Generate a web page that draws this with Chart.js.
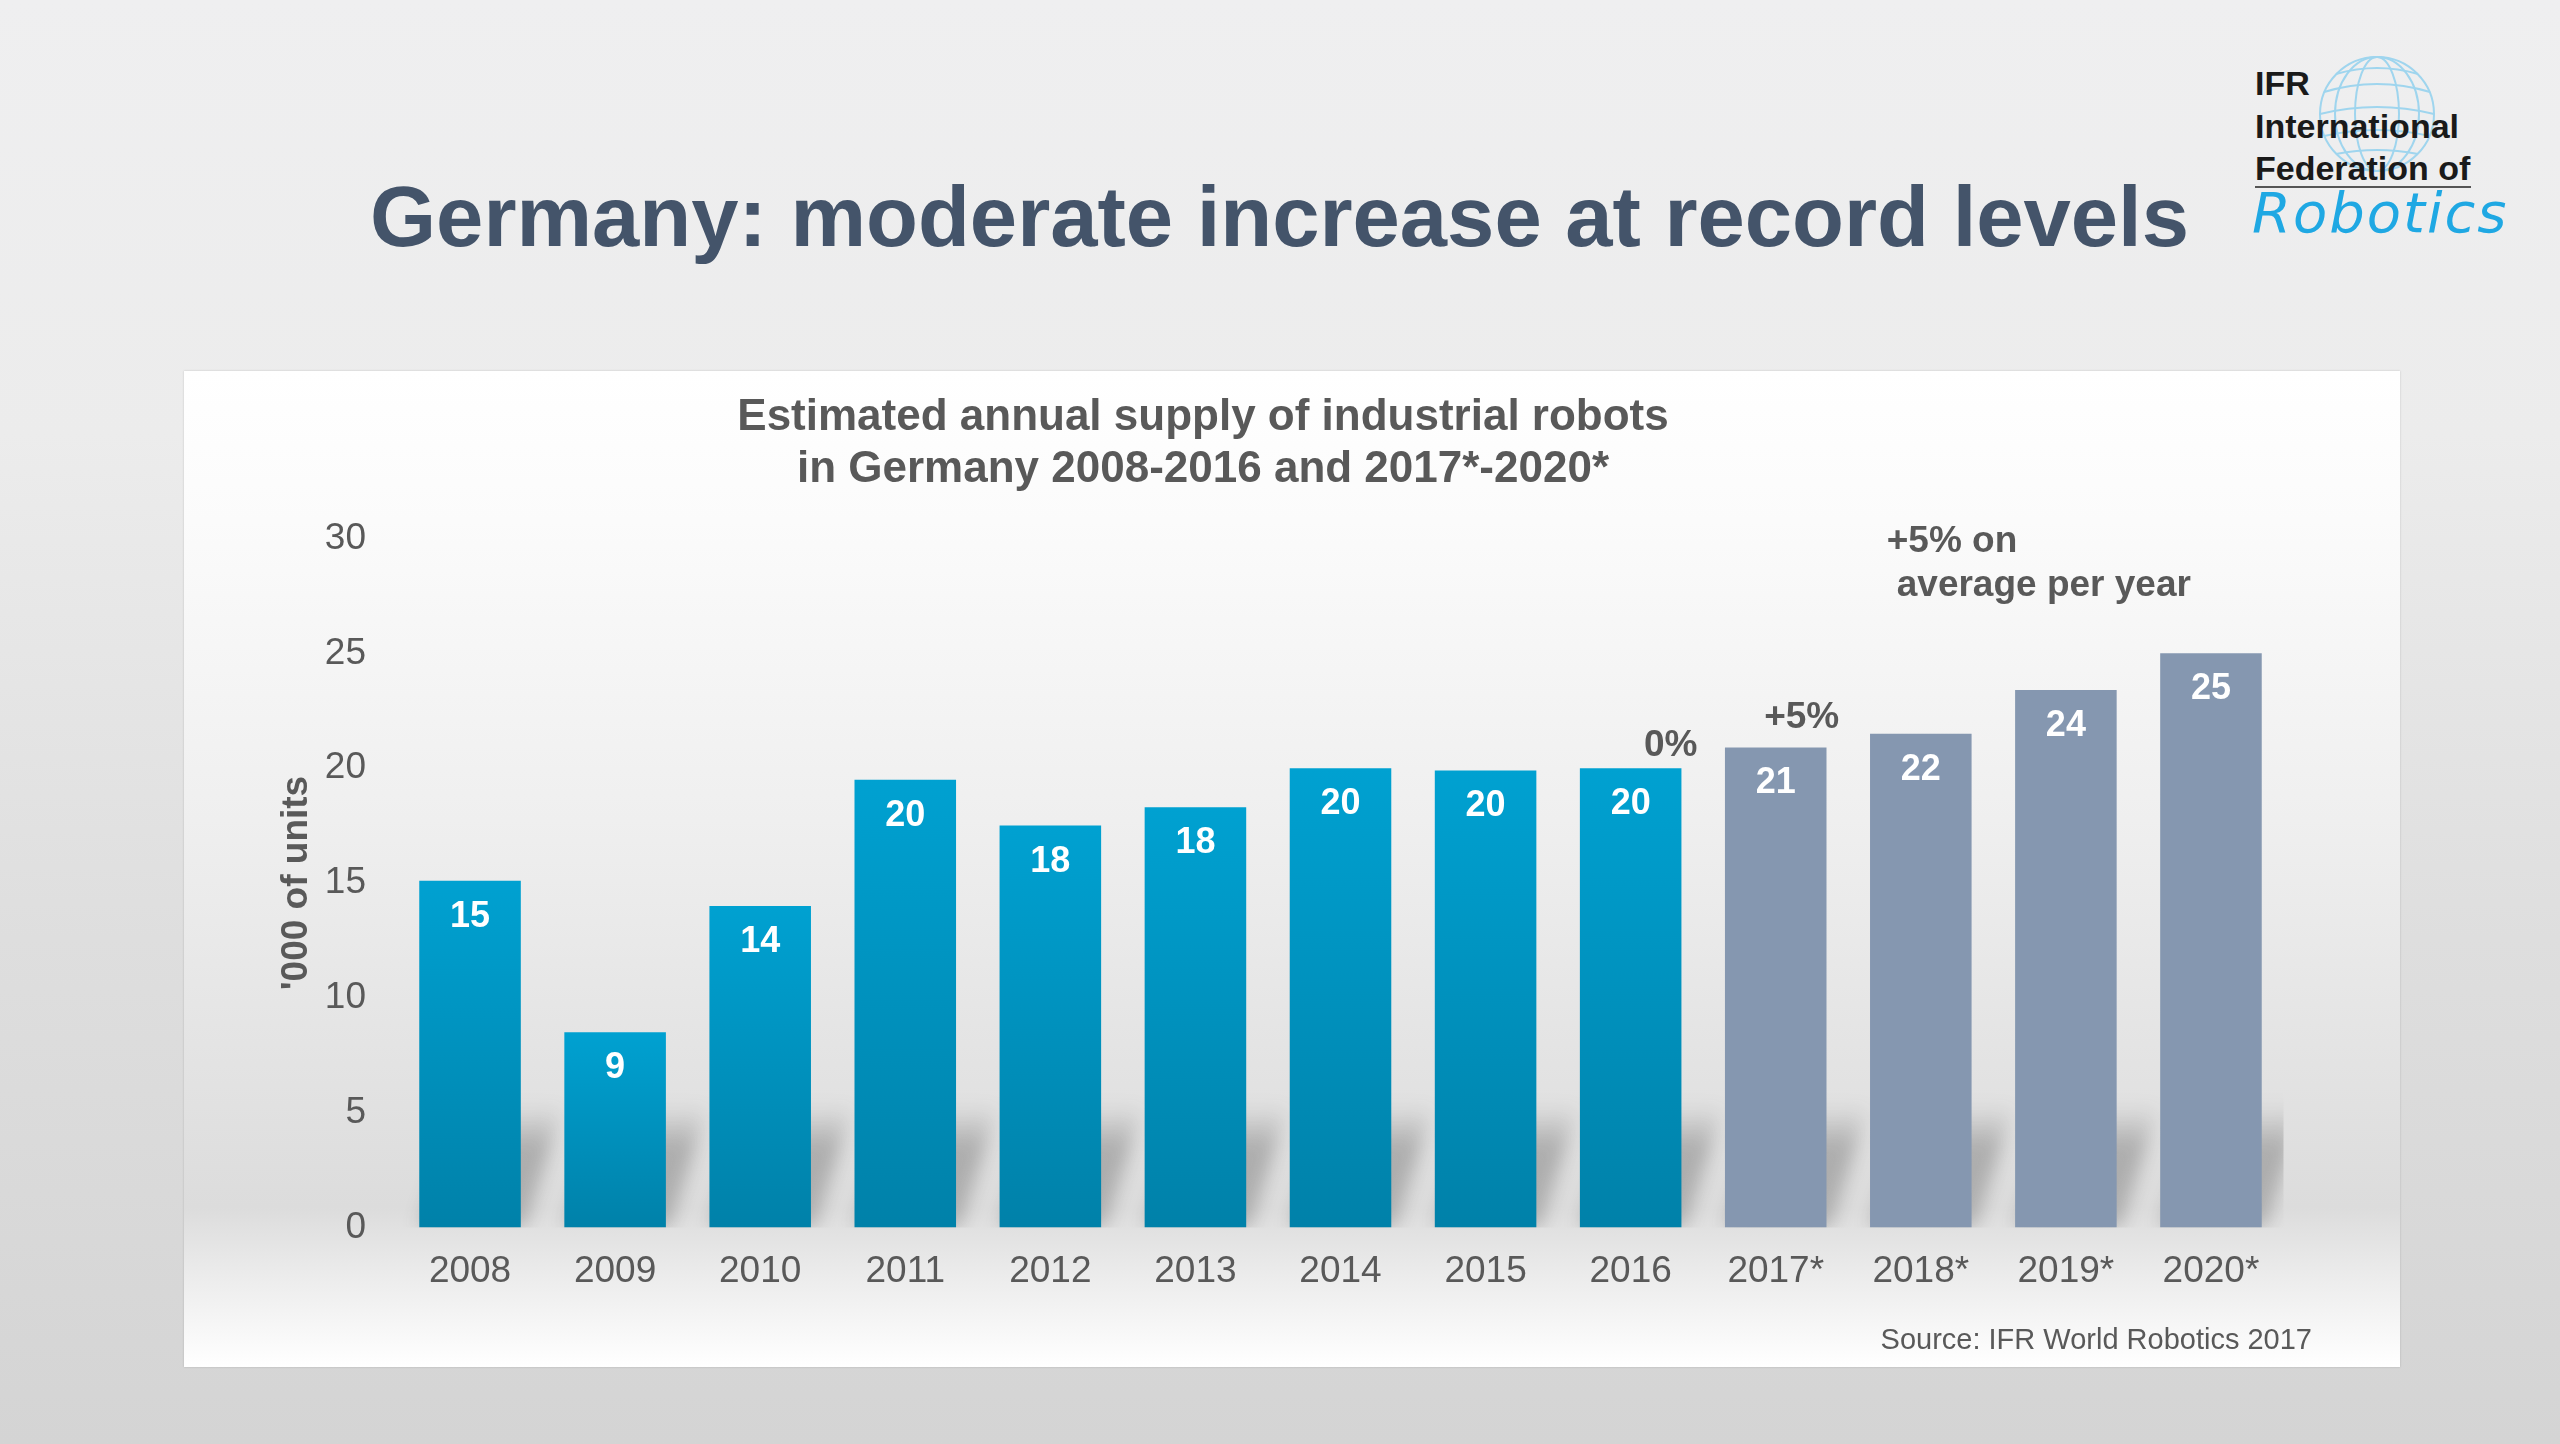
<!DOCTYPE html>
<html>
<head>
<meta charset="utf-8">
<title>Germany: moderate increase at record levels</title>
<script src="https://cdn.jsdelivr.net/npm/chart.js@4.4.1/dist/chart.umd.min.js"></script>
<style>
html, body { margin: 0; padding: 0; }
body {
  width: 2560px; height: 1444px; overflow: hidden; position: relative;
  background: linear-gradient(to bottom, #efeff0 0%, #ececec 30%, #dedede 65%, #d4d4d4 100%);
  font-family: "Liberation Sans", Arial, sans-serif;
}
#slideTitle {
  position: absolute; left: 370px; top: 170px;
  font-size: 85px; line-height: 94px; font-weight: bold; color: #44546a; white-space: nowrap;
}
#logo { position: absolute; left: 2240px; top: 40px; width: 320px; height: 230px; }
#logo svg { position: absolute; left: 0; top: 0; }
.logoLine {
  position: absolute; left: 15px; font-size: 34px; line-height: 42px; font-weight: bold; color: #1a1a1a; white-space: nowrap;
}
#logoRule { position: absolute; left: 15px; top: 146px; width: 216px; height: 2px; background: #555; }
#logoScript {
  position: absolute; left: 12px; top: 140px; font-family: "DejaVu Sans", sans-serif; font-style: italic; font-weight: 300;
  font-size: 56px; line-height: 66px; color: #1fa8e3; letter-spacing: 2px; white-space: nowrap;
}
#panel {
  position: absolute; left: 184px; top: 371px; width: 2216px; height: 996px;
  background: linear-gradient(to bottom, #ffffff 0%, #fbfbfb 15%, #efefef 45%, #dcdcdc 84%, #ececec 91%, #ffffff 100%);
  box-shadow: 0 0 2px rgba(0,0,0,0.18);
}
#panel canvas { position: absolute; left: 0; top: 0; }
#chartTitle {
  position: absolute; left: 319px; top: 18px; width: 1400px; text-align: center;
  font-size: 44px; line-height: 52px; font-weight: bold; color: #595959;
}
#source {
  position: absolute; right: 88px; top: 951px; font-size: 29px; line-height: 34px; color: #595959; white-space: nowrap;
}
</style>
</head>
<body>

<div id="slideTitle">Germany: moderate increase at record levels</div>

<div id="logo">
  <svg width="320" height="230" viewBox="0 0 320 230">
    <g fill="none" stroke="#9fd5ee" stroke-width="2">
      <circle cx="137" cy="74" r="57"/>
      <ellipse cx="137" cy="74" rx="22" ry="57"/>
      <ellipse cx="137" cy="74" rx="42" ry="57"/>
      <path d="M84 52 Q137 36 190 52"/>
      <path d="M80 74 Q137 60 194 74"/>
      <path d="M84 96 Q137 84 190 96"/>
      <path d="M96 114 Q137 106 178 114"/>
      <path d="M96 34 Q137 22 178 34"/>
    </g>
  </svg>
  <div class="logoLine" style="top:22px">IFR</div>
  <div class="logoLine" style="top:65px">International</div>
  <div class="logoLine" style="top:107px">Federation of</div>
  <div id="logoRule"></div>
  <div id="logoScript">Robotics</div>
</div>

<div id="panel">
  <canvas id="supplyChart" width="2216" height="996"></canvas>
  <div id="chartTitle">Estimated annual supply of industrial robots<br>in Germany 2008-2016 and 2017*-2020*</div>
  <div id="source">Source: IFR World Robotics 2017</div>
</div>

<script>
// ===============================
// DATA ('000 of units)
// ===============================
const years = ["2008", "2009", "2010", "2011", "2012", "2013", "2014", "2015", "2016", "2017*", "2018*", "2019*", "2020*"];
const supply = [15.1, 8.5, 14.0, 19.5, 17.5, 18.3, 20.0, 19.9, 20.0, 20.9, 21.5, 23.4, 25.0];
const valueLabels = ["15", "9", "14", "20", "18", "18", "20", "20", "20", "21", "22", "24", "25"];
const forecastFrom = 9; // 2017* onwards are estimates
const yTicks = [0, 5, 10, 15, 20, 25, 30];
const growthNotes = ["0%", "+5%"];
const averageNote = ["+5% on", "average per year"];

const TEXT_GREY = "#595959";
const FONT = "'Liberation Sans', Arial, sans-serif";


// ===============================
// BAR COLOURS
// ===============================
function barColor(context){
  const i = context.dataIndex;
  if(i >= forecastFrom){
    return "#8597b0";
  }
  const chart = context.chart;
  const area = chart.chartArea;
  if(!area){
    return "#0095c2";
  }
  const y = chart.scales.y;
  const top = y.getPixelForValue(supply[i]);
  const bottom = y.getPixelForValue(0);
  const g = chart.ctx.createLinearGradient(0, top, 0, bottom);
  g.addColorStop(0, "#00a1d1");
  g.addColorStop(1, "#0081a9");
  return g;
}


// ===============================
// PLUGINS
// ===============================
// soft shadow falling back from the foot of every bar
const barShadow = {
  id: "barShadow",
  beforeDatasetsDraw(chart){
    const ctx = chart.ctx;
    const area = chart.chartArea;
    const bars = chart.getDatasetMeta(0).data;
    ctx.save();
    // shadows stop at the right edge of the plot
    ctx.beginPath();
    ctx.rect(area.left, area.top, area.right - area.left, area.bottom - area.top);
    ctx.clip();
    ctx.filter = "blur(9px)";
    bars.forEach(bar => {
      const half = bar.width / 2;
      const base = bar.base;
      const h = Math.min(122, base - bar.y);
      const g = ctx.createLinearGradient(0, base, 0, base - h);
      g.addColorStop(0, "rgba(60,60,60,0.28)");
      g.addColorStop(0.65, "rgba(60,60,60,0.30)");
      g.addColorStop(1, "rgba(60,60,60,0)");
      ctx.fillStyle = g;
      ctx.beginPath();
      ctx.moveTo(bar.x - half, base);
      ctx.lineTo(bar.x + half + 4, base);
      ctx.lineTo(bar.x + half + 42, base - h);
      ctx.lineTo(bar.x - half + 42, base - h);
      ctx.closePath();
      ctx.fill();
    });
    ctx.restore();
  }
};

// value labels inside the bars + growth notes
const barTexts = {
  id: "barTexts",
  afterDatasetsDraw(chart){
    const ctx = chart.ctx;
    const bars = chart.getDatasetMeta(0).data;
    const xs = chart.scales.x;
    const ys = chart.scales.y;

    ctx.save();
    ctx.textAlign = "center";
    ctx.textBaseline = "middle";
    ctx.font = "bold 36px " + FONT;
    ctx.fillStyle = "#ffffff";
    bars.forEach((bar, i) => {
      ctx.fillText(valueLabels[i], bar.x, bar.y + 36);
    });

    ctx.font = "bold 37px " + FONT;
    ctx.fillStyle = TEXT_GREY;
    // 0% over 2016, +5% over 2017*
    ctx.fillText(growthNotes[0], bars[8].x + 40, bars[8].y - 22);
    ctx.fillText(growthNotes[1], bars[9].x + 26, bars[9].y - 30);

    ctx.textAlign = "left";
    const noteX = xs.getPixelForValue(forecastFrom) + 111;
    ctx.fillText(averageNote[0], noteX, ys.getPixelForValue(29.85));
    ctx.fillText(averageNote[1], noteX + 10, ys.getPixelForValue(27.95));
    ctx.restore();
  }
};


// ===============================
// CHART
// ===============================
const ctx = document.getElementById("supplyChart").getContext("2d");

new Chart(ctx, {
  type: "bar",
  data: {
    labels: years,
    datasets: [{
      label: "Annual supply",
      data: supply,
      backgroundColor: barColor,
      borderWidth: 0,
      categoryPercentage: 1,
      barPercentage: 0.7
    }]
  },
  options: {
    responsive: false,
    animation: false,
    devicePixelRatio: 1,
    layout: { padding: { top: 167.5, right: 116.5, bottom: 0, left: 0 } },
    plugins: {
      legend: { display: false },
      tooltip: { enabled: false }
    },
    scales: {
      x: {
        grid: { display: false, drawTicks: false },
        border: { display: false },
        ticks: { color: TEXT_GREY, font: { family: FONT, size: 37 }, padding: 22, maxRotation: 0 },
        afterFit(scale){ scale.height = 139.5; }
      },
      y: {
        min: 0,
        max: 30,
        afterBuildTicks(scale){ scale.ticks = yTicks.map(v => ({ value: v })); },
        grid: { display: false, drawTicks: false },
        border: { display: false },
        ticks: { color: TEXT_GREY, font: { family: FONT, size: 37 }, padding: 31.5 },
        title: {
          display: true,
          text: "'000 of units",
          color: TEXT_GREY,
          font: { family: FONT, size: 37, weight: "bold" },
          padding: { top: 91, bottom: 0 }
        },
        afterFit(scale){ scale.width = 213.5; }
      }
    }
  },
  plugins: [barShadow, barTexts]
});
</script>
</body>
</html>
